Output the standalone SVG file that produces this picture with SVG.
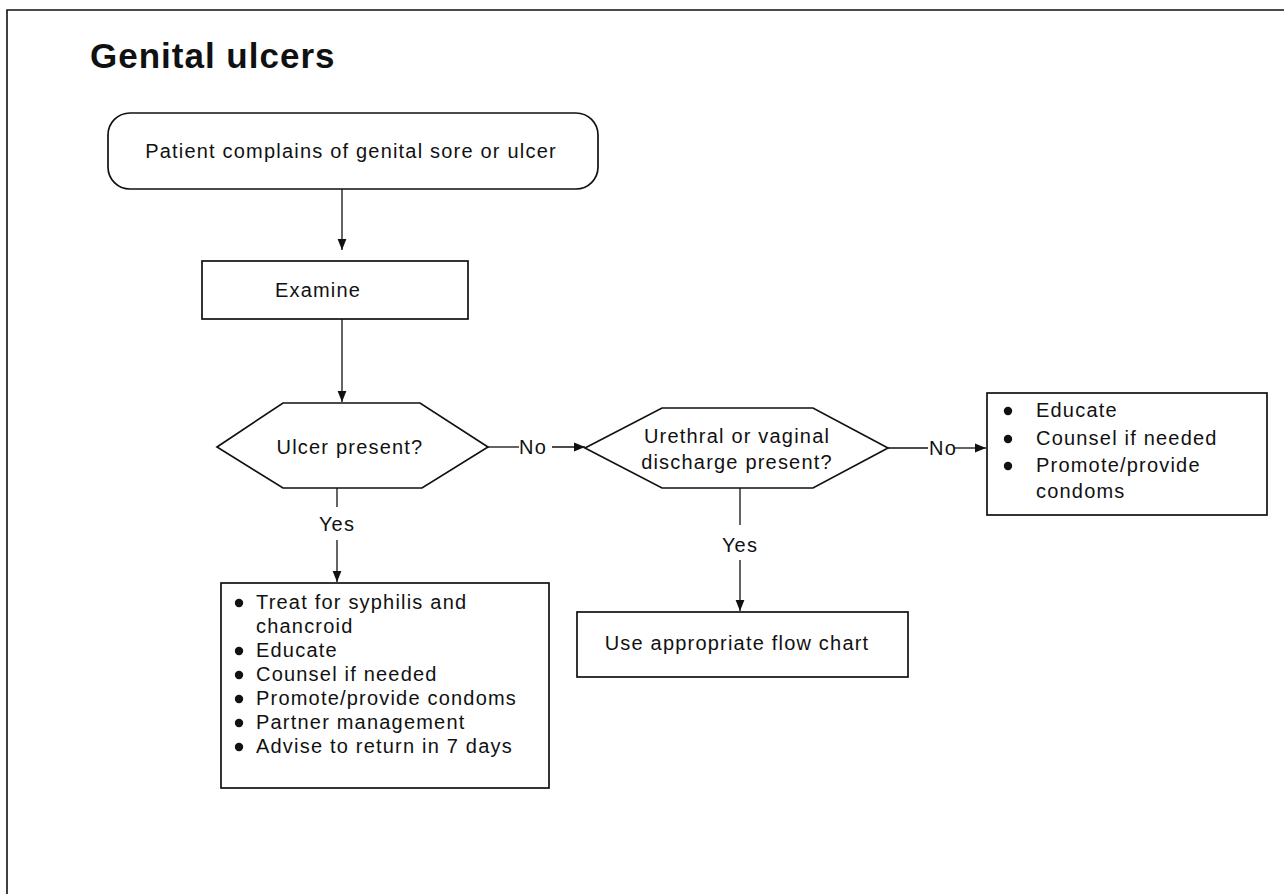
<svg xmlns="http://www.w3.org/2000/svg" width="1284" height="894" viewBox="0 0 1284 894">
  <defs>
    <marker id="arrow" viewBox="0 0 10 10" refX="10" refY="5" markerWidth="11" markerHeight="11" markerUnits="userSpaceOnUse" orient="auto">
      <path d="M0,1 L10,5 L0,9 z" fill="#111"/>
    </marker>
  </defs>
  <style>
    .frame{fill:none;stroke:#111;stroke-width:1.6}
    .shape{fill:#fff;stroke:#111;stroke-width:1.7}
    .conn{fill:none;stroke:#111;stroke-width:1.3}
    .title{font-family:"Liberation Sans",Arial,Helvetica,sans-serif;font-weight:bold;font-size:35px;letter-spacing:1px;fill:#111}
    .t{font-family:"Liberation Sans",Arial,Helvetica,sans-serif;font-size:20px;letter-spacing:1.2px;fill:#111}
    .mid{text-anchor:middle}
    .dot{fill:#111}
  </style>

  <!-- page frame: left and top rules -->
  <path class="frame" d="M7,894 V10 H1284"/>

  <text class="title" x="90" y="68">Genital ulcers</text>

  <g id="start">
    <rect class="shape" x="108" y="113" width="490" height="76" rx="22" ry="22"/>
    <text class="t mid" x="351" y="158">Patient complains of genital sore or ulcer</text>
  </g>

  <g id="examine">
    <rect class="shape" x="202" y="261" width="266" height="58"/>
    <text class="t mid" x="318" y="297">Examine</text>
  </g>

  <g id="ulcer-present">
    <polygon class="shape" points="217,447 283,403 420,403 488,447 422,488 283,488"/>
    <text class="t mid" x="350" y="454">Ulcer present?</text>
  </g>

  <g id="discharge-present">
    <polygon class="shape" points="585,448 662,408 813,408 888,448 813,488 662,488"/>
    <text class="t mid" x="737" y="443">Urethral or vaginal</text>
    <text class="t mid" x="737" y="469">discharge present?</text>
  </g>

  <g id="treat">
    <rect class="shape" x="221" y="583" width="328" height="205"/>
    <g class="t">
      <circle class="dot" cx="239" cy="603" r="4.2"/>
      <text x="256" y="609">Treat for syphilis and</text>
      <text x="256" y="633">chancroid</text>
      <circle class="dot" cx="239" cy="651" r="4.2"/>
      <text x="256" y="657">Educate</text>
      <circle class="dot" cx="239" cy="675" r="4.2"/>
      <text x="256" y="681">Counsel if needed</text>
      <circle class="dot" cx="239" cy="699" r="4.2"/>
      <text x="256" y="705">Promote/provide condoms</text>
      <circle class="dot" cx="239" cy="723" r="4.2"/>
      <text x="256" y="729">Partner management</text>
      <circle class="dot" cx="239" cy="747" r="4.2"/>
      <text x="256" y="753">Advise to return in 7 days</text>
    </g>
  </g>

  <g id="flow-chart">
    <rect class="shape" x="577" y="612" width="331" height="65"/>
    <text class="t mid" x="737" y="650">Use appropriate flow chart</text>
  </g>

  <g id="educate">
    <rect class="shape" x="987" y="393" width="280" height="122"/>
    <g class="t">
      <circle class="dot" cx="1008" cy="411" r="4.2"/>
      <text x="1036" y="417">Educate</text>
      <circle class="dot" cx="1008" cy="439" r="4.2"/>
      <text x="1036" y="445">Counsel if needed</text>
      <circle class="dot" cx="1008" cy="466" r="4.2"/>
      <text x="1036" y="472">Promote/provide</text>
      <text x="1036" y="498">condoms</text>
    </g>
  </g>

  <g id="connectors">
    <line class="conn" x1="342" y1="189" x2="342" y2="250" marker-end="url(#arrow)"/>
    <line class="conn" x1="342" y1="319" x2="342" y2="402" marker-end="url(#arrow)"/>
    <!-- Ulcer present? : No -->
    <line class="conn" x1="488" y1="447" x2="519" y2="447"/>
    <text class="t" x="519" y="454">No</text>
    <line class="conn" x1="552" y1="447" x2="585" y2="447" marker-end="url(#arrow)"/>
    <!-- Ulcer present? : Yes -->
    <line class="conn" x1="337" y1="488" x2="337" y2="507"/>
    <text class="t mid" x="337" y="531">Yes</text>
    <line class="conn" x1="337" y1="540" x2="337" y2="582" marker-end="url(#arrow)"/>
    <!-- discharge : Yes -->
    <line class="conn" x1="740" y1="488" x2="740" y2="525"/>
    <text class="t mid" x="740" y="552">Yes</text>
    <line class="conn" x1="740" y1="560" x2="740" y2="611" marker-end="url(#arrow)"/>
    <!-- discharge : No -->
    <line class="conn" x1="888" y1="448" x2="928" y2="448"/>
    <text class="t" x="929" y="455">No</text>
    <line class="conn" x1="954" y1="448" x2="986" y2="448" marker-end="url(#arrow)"/>
  </g>
</svg>
